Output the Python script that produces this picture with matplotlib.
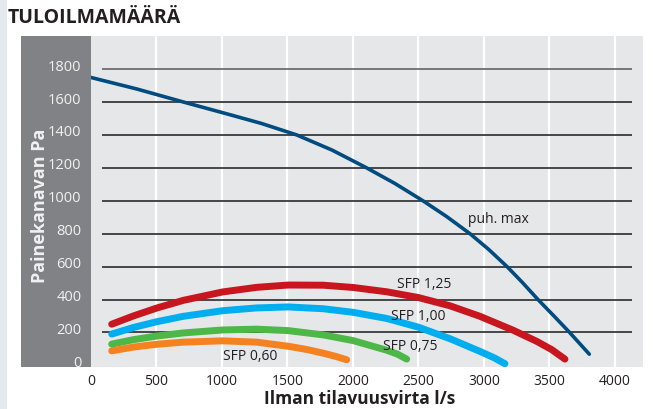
import matplotlib
matplotlib.use("Agg")

import matplotlib.pyplot as plt
import matplotlib.transforms as mtransforms
from matplotlib.patches import Rectangle

plt.rcParams["font.family"] = ["Open Sans", "DejaVu Sans"]

# -------------------------------
# DATA
# -------------------------------
title = "TULOILMAMÄÄRÄ"
x_label = "Ilman tilavuusvirta l/s"
y_label = "Painekanavan Pa"

x_ticks = [0, 500, 1000, 1500, 2000, 2500, 3000, 3500, 4000]
y_ticks = [0, 200, 400, 600, 800, 1000, 1200, 1400, 1600, 1800]

max_flow = [0, 350, 705, 1010, 1300, 1570, 1840, 2104, 2320, 2534, 2715, 2893,
            3035, 3176, 3294, 3412, 3534, 3656, 3804]
max_pres = [1749, 1679, 1600, 1534, 1470, 1400, 1308, 1200, 1105, 1000, 904, 800,
            705, 600, 503, 400, 300, 198, 68]

sfp125_flow = [158, 323, 501, 705, 1005, 1265, 1506, 1773, 2003, 2257, 2499, 2740,
               2969, 3224, 3405, 3518, 3618]
sfp125_pres = [250, 300, 348, 395, 446, 474, 488, 487, 473, 447, 412, 362,
               298, 213, 145, 95, 38]

sfp100_flow = [158, 323, 501, 705, 1005, 1265, 1506, 1773, 2003, 2257, 2499, 2740,
               2969, 3080, 3160]
sfp100_pres = [190, 230, 265, 298, 332, 349, 355, 344, 322, 285, 232, 162,
               85, 45, 10]

sfp075_flow = [158, 323, 501, 705, 1005, 1265, 1506, 1773, 2003, 2257, 2340, 2410]
sfp075_pres = [129, 156, 178, 197, 215, 220, 211, 185, 150, 92, 68, 38]

sfp060_flow = [158, 323, 501, 705, 1005, 1265, 1506, 1650, 1773, 1870, 1952]
sfp060_pres = [88, 111, 128, 141, 149, 141, 116, 96, 74, 54, 34]

curve_labels = [("puh. max", 2880, 894), ("SFP 1,25", 2338, 497),
                ("SFP 1,00", 2288, 305), ("SFP 0,75", 2232, 123),
                ("SFP 0,60", 1010, 58)]

# -------------------------------
# FIGURE / PANELS
# -------------------------------
W, H = 653, 410
fig = plt.figure(figsize=(W / 100, H / 100), dpi=100)
fig.patch.set_facecolor("white")

# light strip along the left edge
fig.patches.append(Rectangle((0, 0), 7 / W, 1, transform=fig.transFigure,
                             facecolor="#e4e9ee", edgecolor="none", zorder=-1))
# dark panel behind the y tick labels
fig.patches.append(Rectangle((21 / W, (H - 368) / H), 70 / W, 331 / H,
                             transform=fig.transFigure, facecolor="#808285",
                             edgecolor="none", zorder=-1))

ax = fig.add_axes([91 / W, (H - 368) / H, 552 / W, 331 / H])
ax.set_facecolor("#e6e7e8")
for s in ax.spines.values():
    s.set_visible(False)

ax.set_xlim(0, 4214)
ax.set_ylim(-10, 2001)

# white vertical grid at x ticks
for xv in x_ticks[1:]:
    ax.axvline(xv, color="white", lw=1.6, zorder=1)
# dark horizontal lines
for yv in y_ticks[1:]:
    ax.hlines(yv, 84, 4130, color="#3a3a3c" if yv < 1800 else "#6d6e71",
              lw=1.3, zorder=1)

# -------------------------------
# CURVES
# -------------------------------
ax.plot(max_flow, max_pres, color="#004b80", lw=2.6, solid_capstyle="round",
        solid_joinstyle="round", zorder=3)
for fl, pr, col in [(sfp125_flow, sfp125_pres, "#c8161e"),
                    (sfp100_flow, sfp100_pres, "#00aeef"),
                    (sfp075_flow, sfp075_pres, "#4db848"),
                    (sfp060_flow, sfp060_pres, "#f58220")]:
    ax.plot(fl, pr, color=col, lw=5, solid_capstyle="round",
            solid_joinstyle="round", zorder=3)

for txt, xv, yv in curve_labels:
    ax.text(xv, yv, txt, fontsize=10, color="#231f20", va="center", ha="left", zorder=4)

# -------------------------------
# TICKS / LABELS
# -------------------------------
ax.set_xticks(x_ticks)
ax.set_xticklabels([str(v) for v in x_ticks], fontsize=10, color="#231f20")
ax.set_yticks(y_ticks)
ax.set_yticklabels([str(v) for v in y_ticks], fontsize=10.5, color="#f1f1f2")
ax.tick_params(axis="both", length=0)
ax.tick_params(axis="x", pad=4)
ax.tick_params(axis="y", pad=7)

up = mtransforms.ScaledTranslation(0, 5 / 100, fig.dpi_scale_trans)
for lab in ax.get_yticklabels():
    lab.set_transform(lab.get_transform() + up)

fig.text(360 / W, 1 - 399 / H, x_label, fontsize=12.5, fontweight="bold",
         color="#231f20", ha="center", va="center")
fig.text(40 / W, 1 - 206 / H, y_label, fontsize=13, fontweight="bold",
         color="#f1f1f2", ha="center", va="center", rotation=90)
fig.text(8 / W, 1 - 18 / H, title, fontsize=14, fontweight="bold",
         color="#231f20", ha="left", va="center")

fig.savefig("out.png", dpi=100)
